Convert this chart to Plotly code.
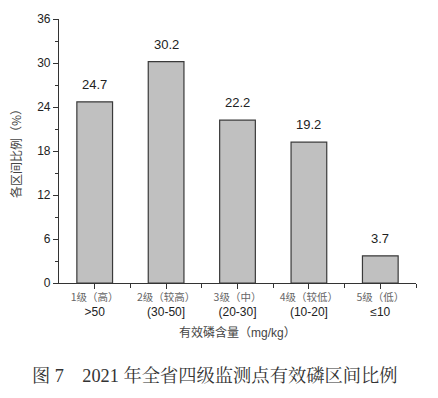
import plotly.graph_objects as go

grades = ["1级（高）", "2级（较高）", "3级（中）", "4级（较低）", "5级（低）"]
ranges = ["&gt;50", "(30-50]", "(20-30]", "(10-20]", "≤10"]
values = [24.7, 30.2, 22.2, 19.2, 3.7]
y_ticks = [0, 6, 12, 18, 24, 30, 36]

W, H = 438, 398
ml, mr, mt, mb = 59, 22, 17, 115
ph = H - mt - mb
pw = W - ml - mr

serif = "Liberation Serif, Noto Serif CJK SC, Noto Sans CJK SC, serif"
sans = "Liberation Sans, Arial, Noto Sans CJK SC, sans-serif"

ticktext = [
    f"<span style='font-family:Noto Sans CJK SC;font-size:10.5px;color:#666'>{g}</span><br>{r}"
    for g, r in zip(grades, ranges)
]

cats = list(range(len(values)))

fig = go.Figure()
fig.add_trace(go.Bar(
    x=cats,
    y=values,
    width=0.5,
    marker=dict(color="#c0c0c0", line=dict(color="#3a3a3a", width=1.2)),
    hoverinfo="skip",
))

annotations = [
    dict(text=f"{v:.1f}", x=c, y=v, xref="x", yref="y",
         xanchor="center", yanchor="bottom", yshift=8, showarrow=False,
         font=dict(family=sans, size=13, color="#222"))
    for c, v in zip(cats, values)
]
annotations += [
    dict(text="各区间比例（%）", xref="paper", yref="paper",
         x=(15 - ml) / pw, y=0.5, xanchor="center", yanchor="middle",
         textangle=-90, showarrow=False,
         font=dict(family="Noto Sans CJK SC", size=12, color="#444")),
    dict(text="有效磷含量（<span style='font-family:Liberation Sans'>mg/kg</span>）",
         xref="paper", yref="paper",
         x=0.5, y=(mt + ph - 332) / ph, xanchor="center", yanchor="middle",
         showarrow=False,
         font=dict(family="Noto Sans CJK SC", size=12, color="#444")),
    dict(text="图 7　2021 年全省四级监测点有效磷区间比例",
         xref="paper", yref="paper",
         x=(215 - ml) / pw, y=(mt + ph - 376) / ph, xanchor="center", yanchor="middle",
         showarrow=False,
         font=dict(family=serif, size=18.3, color="#333")),
]

fig.update_layout(
    width=W, height=H,
    margin=dict(l=ml, r=mr, t=mt, b=mb),
    paper_bgcolor="white", plot_bgcolor="white",
    showlegend=False,
    font=dict(family=sans, size=12, color="#222"),
    xaxis=dict(
        range=[-0.5, 4.5],
        tickmode="array",
        tickvals=cats,
        ticktext=ticktext,
        ticks="outside", ticklen=5, tickwidth=1, tickcolor="#333",
        ticklabelstandoff=-3,
        showline=True, linecolor="#333", linewidth=1.2,
        showgrid=False, zeroline=False,
        tickfont=dict(family=sans, size=12, color="#222"),
        minor=dict(tickvals=[0.5, 1.5, 2.5, 3.5, 4.5], ticks="outside",
                   ticklen=4, tickcolor="#333", tickwidth=1),
    ),
    yaxis=dict(
        range=[0, 36],
        tickmode="array",
        tickvals=y_ticks,
        ticks="outside", ticklen=5, tickwidth=1, tickcolor="#333",
        showline=True, linecolor="#333", linewidth=1.2,
        showgrid=False, zeroline=False,
        tickfont=dict(family=sans, size=12, color="#222"),
        minor=dict(tickvals=[3, 9, 15, 21, 27, 33], ticks="outside",
                   ticklen=3, tickcolor="#333", tickwidth=1),
    ),
    annotations=annotations,
)

fig.write_html("out.html")
